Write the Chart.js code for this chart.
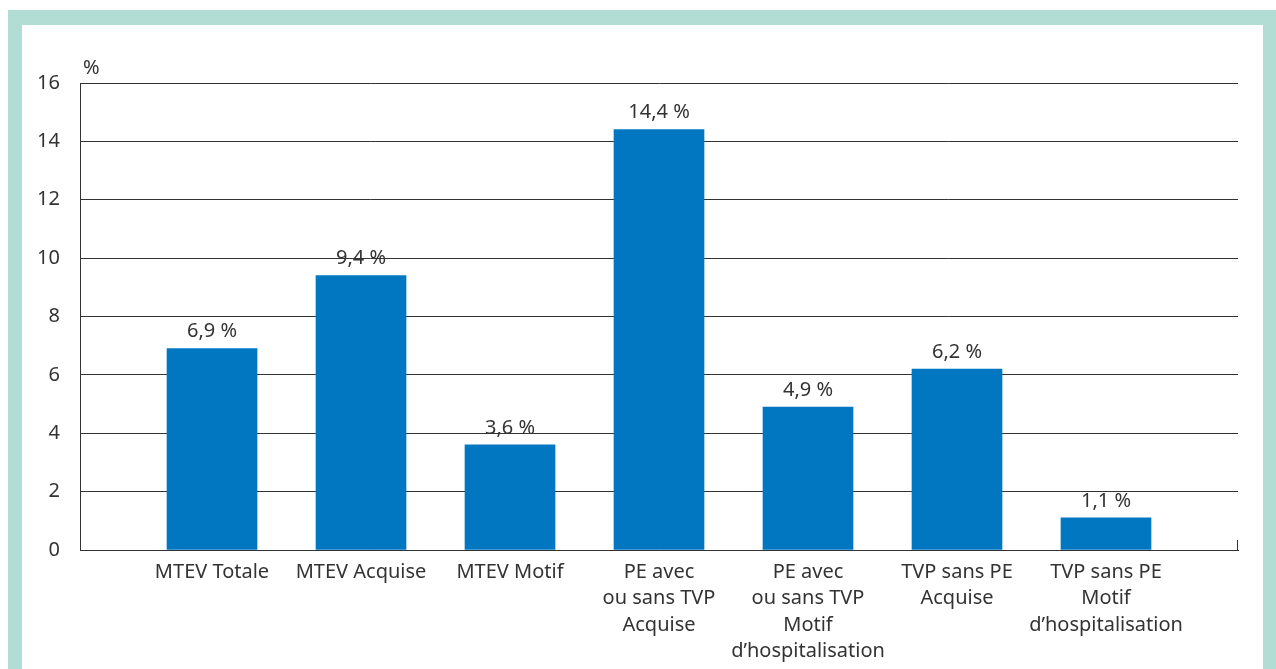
<!DOCTYPE html>
<html>
<head>
<meta charset="utf-8">
<script src="https://cdn.jsdelivr.net/npm/chart.js@4.4.0/dist/chart.umd.min.js"></script>
<style>
  html, body { margin: 0; padding: 0; background: #ffffff; width: 1276px; height: 669px; overflow: hidden; }
  .frame { position: absolute; left: 8px; top: 10px; right: 0; bottom: 0; background: #b2ddd4; }
  .inner { position: absolute; left: 14px; top: 15px; right: 13px; bottom: 0; background: #ffffff; }
  canvas { display: block; }
</style>
</head>
<body>
<div class="frame"><div class="inner"><canvas id="chart" width="1241" height="644"></canvas></div></div>
<script>
// données
const categories = [
    ["MTEV Totale"],
    ["MTEV Acquise"],
    ["MTEV Motif"],
    ["PE avec", "ou sans TVP", "Acquise"],
    ["PE avec", "ou sans TVP", "Motif", "d’hospitalisation"],
    ["TVP sans PE", "Acquise"],
    ["TVP sans PE", "Motif", "d’hospitalisation"]
];
const values = [6.9, 9.4, 3.6, 14.4, 4.9, 6.2, 1.1];
const yTicks = [0, 2, 4, 6, 8, 10, 12, 14, 16];

const FONT = '"Noto Sans", sans-serif';
const TEXT = '#333333';

const fmt = v => v.toFixed(1).replace('.', ',') + ' %';

// étiquettes au-dessus des barres + "%" + petit trait à droite
const extras = {
    id: 'extras',
    afterDatasetsDraw(chart) {
        const ctx = chart.ctx;
        const meta = chart.getDatasetMeta(0);
        ctx.save();
        ctx.fillStyle = TEXT;
        ctx.font = '20px ' + FONT;
        ctx.textAlign = 'center';
        ctx.textBaseline = 'bottom';
        meta.data.forEach((bar, i) => {
            ctx.fillText(fmt(values[i]), bar.x, bar.y - 7);
        });
        const area = chart.chartArea;
        ctx.textAlign = 'left';
        ctx.fillText('%', area.left + 3, area.top - 5);
        ctx.strokeStyle = '#333333';
        ctx.lineWidth = 1;
        ctx.beginPath();
        ctx.moveTo(Math.round(area.right) - 0.5, area.bottom);
        ctx.lineTo(Math.round(area.right) - 0.5, area.bottom - 10);
        ctx.stroke();
        ctx.restore();
    }
};

new Chart(document.getElementById('chart'), {
    type: 'bar',
    data: {
        datasets: [{
            data: values.map((v, i) => ({ x: i, y: v })),
            backgroundColor: '#0077c0',
            barThickness: 90,
            borderWidth: 0
        }]
    },
    options: {
        responsive: false,
        animation: false,
        layout: { padding: { left: 0, right: 25, top: 58, bottom: 0 } },
        plugins: { legend: { display: false }, tooltip: { enabled: false } },
        scales: {
            x: {
                type: 'linear',
                offset: false,
                min: -0.886,
                max: 6.886,
                afterBuildTicks: scale => { scale.ticks = categories.map((c, i) => ({ value: i })); },
                afterFit: scale => { scale.height = 644 - 525; },
                grid: { display: false, drawTicks: false },
                border: { display: true, color: '#333333', width: 1 },
                ticks: {
                    autoSkip: false,
                    maxRotation: 0,
                    padding: 9,
                    color: TEXT,
                    font: { family: FONT, size: 20, lineHeight: 1.32 },
                    callback: v => categories[v]
                }
            },
            y: {
                min: 0,
                max: 16,
                afterBuildTicks: scale => { scale.ticks = yTicks.map(v => ({ value: v })); },
                afterFit: scale => { scale.width = 58; },
                grid: { color: '#333333', lineWidth: 1, drawTicks: false },
                border: { display: true, color: '#333333', width: 1 },
                ticks: {
                    padding: 20,
                    color: TEXT,
                    font: { family: FONT, size: 20 }
                }
            }
        }
    },
    plugins: [extras]
});
</script>
</body>
</html>
